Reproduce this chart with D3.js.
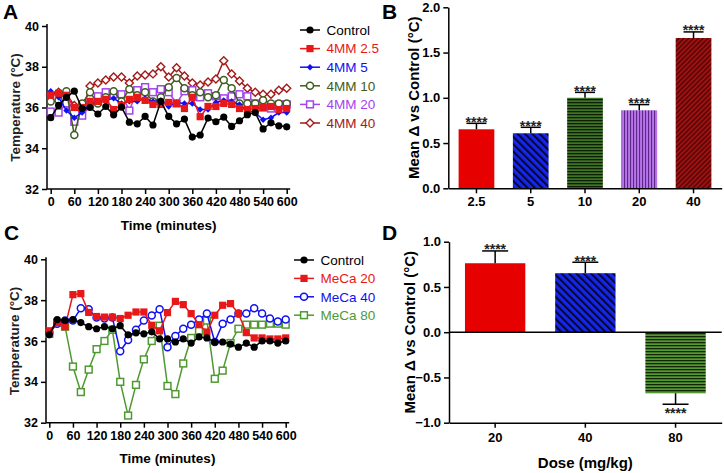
<!DOCTYPE html>
<html><head><meta charset="utf-8">
<script src="https://cdn.jsdelivr.net/npm/d3@7"></script>
<style>body{margin:0;background:#fff} svg{display:block;font-family:"Liberation Sans",Arial,sans-serif}</style>
</head><body><svg id="c" width="724" height="473"></svg>
<script>
// ---------- data ----------
const timeMin = [0,20,40,60,80,100,120,140,160,180,200,220,240,260,280,300,320,340,360,380,400,420,440,460,480,500,520,540,560,580,600];
const timeTicks = [0,60,120,180,240,300,360,420,480,540,600];
const tempTicks = [32,34,36,38,40];

const seriesNamesA = ["Control","4MM 2.5","4MM 5","4MM 10","4MM 20","4MM 40"];
const controlA = [35.5,36.1,36.5,36.8,35.95,36.0,35.68,36.05,35.64,36.02,35.28,35.2,35.56,35.14,36.3,35.56,35.2,35.43,34.55,34.65,35.48,35.3,35.53,35.07,35.35,35.65,35.75,34.95,35.25,35.1,35.05];
const mm25 = [36.6,36.7,36.6,36.0,36.0,36.3,36.3,36.4,35.9,36.1,36.4,36.5,36.35,36.15,36.15,36.25,36.2,35.95,36.5,35.55,36.05,36.05,36.2,36.15,35.95,35.9,35.95,36.0,36.05,35.9,35.95];
const mm5 = [36.8,36.5,35.85,35.5,35.75,36.15,36.3,36.35,36.45,36.2,36.3,36.3,36.45,36.3,36.35,36.05,36.25,36.2,36.2,35.9,35.9,36.25,36.35,36.3,36.15,35.85,35.75,35.4,35.5,35.75,35.75];
const mm10 = [36.3,36.35,36.8,34.65,36.2,36.75,36.2,36.5,36.8,36.3,36.9,36.6,36.75,36.3,36.5,37.0,37.45,36.95,36.6,36.75,36.5,36.6,37.35,36.95,36.2,36.2,36.2,36.35,36.2,36.2,36.2];
const mm20 = [35.8,35.75,36.2,35.3,35.6,36.15,36.55,36.75,36.65,36.65,35.85,36.85,37.0,36.75,36.9,36.75,36.2,36.8,36.85,36.5,36.7,36.55,36.45,36.55,36.65,36.55,36.2,36.0,35.95,36.15,36.15];
const mm40 = [36.65,36.75,36.65,36.1,35.85,37.05,37.2,37.35,37.5,37.5,37.2,37.55,37.6,37.65,38.0,37.5,37.95,37.55,37.2,37.1,37.25,37.4,38.3,37.65,37.3,36.95,36.75,36.65,36.65,36.85,36.95];

const seriesNamesC = ["Control","MeCa 20","MeCa 40","MeCa 80"];
const controlC = [36.3,37.05,37.0,37.05,36.9,36.7,36.6,36.7,36.6,36.75,36.3,36.4,36.35,36.45,36.1,36.1,35.95,36.1,35.9,36.2,36.15,35.95,35.95,35.85,35.7,35.9,35.7,36.0,36.0,35.9,36.0];
const meca20 = [36.5,36.9,36.7,38.27,38.32,37.4,37.2,37.17,37.17,37.1,37.26,37.42,37.42,36.77,36.5,37.39,37.94,37.78,37.34,36.8,36.44,37.26,37.75,37.83,37.34,36.41,36.15,36.15,36.1,36.1,36.15];
const meca40 = [36.4,36.85,37.0,37.0,37.6,37.55,37.15,37.1,37.15,35.5,36.05,36.55,37.0,37.25,37.55,35.7,36.25,36.6,36.8,37.05,37.35,35.95,36.85,37.05,37.35,37.35,37.6,37.35,37.1,36.95,37.05];
const meca80 = [36.35,36.9,36.7,34.75,33.5,34.6,35.6,36.0,36.55,34.0,32.35,33.85,35.1,36.0,36.75,33.8,33.4,34.9,36.15,36.5,37.0,34.15,34.55,35.9,36.6,36.8,36.8,36.8,36.85,36.85,36.8];

const dosesB = ["2.5","5","10","20","40"];
const meanB = [0.652,0.608,1.0,0.862,1.661];
const semB = [0.066,0.066,0.06,0.063,0.067];
const ticksB = [0,0.5,1.0,1.5,2.0];

const dosesD = ["20","40","80"];
const meanD = [0.762,0.652,-0.674];
const semD = [0.136,0.121,0.122];
const ticksD = [-1.0,-0.5,0,0.5,1.0];
const sigLabel = "****";

// ---------- styles ----------
const colA = ["#000000","#e81818","#1010f0","#3f5d20","#a444ec","#a31818"];
const shapeA = ["circle","square","diamondSmall","circleOpen","squareOpen","diamondOpen"];
const colC = ["#000000","#e81818","#1010f0","#4f9a30"];
const shapeC = ["circle","square","circleOpen","squareOpen"];

const svg = d3.select("#c");
const defs = svg.append("defs");
function stripePattern(id, base, stripe, period, width, angle){
  const p = defs.append("pattern").attr("id",id).attr("patternUnits","userSpaceOnUse")
    .attr("width",period).attr("height",period).attr("patternTransform",`rotate(${angle})`);
  p.append("rect").attr("width",period).attr("height",period).attr("fill",base);
  p.append("rect").attr("x",0).attr("y",0).attr("width",width).attr("height",period).attr("fill",stripe);
}
stripePattern("pBlue","#1426e8","#050530",5.2,2.0,-45);
stripePattern("pGreen","#3f7424","#0e1f07",3.0,1.3,90);
stripePattern("pPurple","#b874ea","#5c2a86",3.0,1.1,0);
stripePattern("pDRed","#a01212","#4a0404",3.4,1.3,45);
stripePattern("pGreen2","#559a30","#13260a",3.0,1.3,90);

const fillB = ["#e60000","url(#pBlue)","url(#pGreen)","url(#pPurple)","url(#pDRed)"];
const fillD = ["#e60000","url(#pBlue)","url(#pGreen2)"];

function marker(g, shape, color, cx, cy){
  if(shape==="circle") g.append("circle").attr("cx",cx).attr("cy",cy).attr("r",3.6).attr("fill",color);
  else if(shape==="circleOpen") g.append("circle").attr("cx",cx).attr("cy",cy).attr("r",3.5).attr("fill","#fff").attr("stroke",color).attr("stroke-width",1.5);
  else if(shape==="square") g.append("rect").attr("x",cx-3.6).attr("y",cy-3.6).attr("width",7.2).attr("height",7.2).attr("fill",color);
  else if(shape==="squareOpen") g.append("rect").attr("x",cx-3.4).attr("y",cy-3.4).attr("width",6.8).attr("height",6.8).attr("fill","#fff").attr("stroke",color).attr("stroke-width",1.5);
  else if(shape==="diamondSmall") g.append("path").attr("d",`M${cx},${cy-3.2}L${cx+3.2},${cy}L${cx},${cy+3.2}L${cx-3.2},${cy}Z`).attr("fill",color);
  else if(shape==="diamondOpen") g.append("path").attr("d",`M${cx},${cy-4}L${cx+4},${cy}L${cx},${cy+4}L${cx-4},${cy}Z`).attr("fill","#fff").attr("stroke",color).attr("stroke-width",1.4);
}

function styleAxis(sel, fs){
  sel.selectAll("path,line").attr("stroke","#000").attr("stroke-width",1.5);
  sel.selectAll("text").attr("font-size",fs).attr("font-weight","bold").attr("fill","#000")
     .attr("font-family",'"Liberation Sans",Arial,sans-serif');
}

function linePanel(o){
  const x = d3.scaleLinear().domain([0,600]).range(o.xr);
  const y = d3.scaleLinear().domain([32,40]).range(o.yr);
  const g = svg.append("g");
  // axes
  const ya = g.append("g").attr("transform",`translate(${o.yAxisX},0)`)
    .call(d3.axisLeft(y).tickValues(tempTicks).tickSize(5).tickPadding(3).tickSizeOuter(0));
  styleAxis(ya,"12.5px");
  ya.select(".domain").attr("d",`M0,${y(32)}V${y(40)-2}`);
  const xa = g.append("g").attr("transform",`translate(0,${y(32)})`)
    .call(d3.axisBottom(x).tickValues(timeTicks).tickSize(5).tickPadding(3).tickSizeOuter(0));
  styleAxis(xa,"12.5px");
  xa.select(".domain").attr("d",`M${o.yAxisX},0H${x(600)+3.5}`);
  // series (draw last first so Control ends on top)
  const line = d3.line().x((d,i)=>x(timeMin[i])).y(d=>y(d));
  for(let s=o.data.length-1;s>=0;s--){
    const sg = g.append("g");
    sg.append("path").attr("d",line(o.data[s])).attr("fill","none").attr("stroke",o.cols[s]).attr("stroke-width",1.5);
    o.data[s].forEach((v,i)=>marker(sg,o.shapes[s],o.cols[s],x(timeMin[i]),y(v)));
  }
  // legend
  o.names.forEach((n,i)=>{
    const ly = o.legY + i*o.legStep;
    g.append("line").attr("x1",o.legX).attr("x2",o.legX+20).attr("y1",ly).attr("y2",ly).attr("stroke",o.cols[i]).attr("stroke-width",1.5);
    marker(g,o.shapes[i],o.cols[i],o.legX+10,ly);
    g.append("text").attr("x",o.legTextX).attr("y",ly).attr("dy","0.35em").attr("font-size","13.5px").attr("fill",o.cols[i]).text(n);
  });
  // titles
  g.append("text").attr("transform",`translate(${o.yTitleX},${(y(32)+y(40))/2}) rotate(-90)`).attr("text-anchor","middle").attr("dy","0.35em")
    .attr("font-size","13.5px").attr("font-weight","bold").attr("fill","#222").text("Temperature (°C)");
  g.append("text").attr("x",(x(0)+x(600))/2).attr("y",y(32)+36).attr("text-anchor","middle").attr("dy","0.35em")
    .attr("font-size","13.5px").attr("font-weight","bold").text("Time (minutes)");
}

linePanel({xr:[50.7,286.7], yr:[189,26], yAxisX:47, data:[controlA,mm25,mm5,mm10,mm20,mm40], cols:colA, shapes:shapeA, names:seriesNamesA,
  legX:300, legTextX:326.5, legY:30, legStep:18.6, yTitleX:15});
linePanel({xr:[49.3,285.7], yr:[422.7,259.3], yAxisX:46, data:[controlC,meca20,meca40,meca80], cols:colC, shapes:shapeC, names:seriesNamesC,
  legX:294, legTextX:320.5, legY:260, legStep:18.4, yTitleX:14});

// ---------- panel B ----------
(function(){
  const x = d3.scaleBand().domain(dosesB).range([448.3,721.7]).paddingInner(0.342).paddingOuter(0.19);
  const y = d3.scaleLinear().domain([0,2]).range([188.3,7.3]);
  const g = svg.append("g");
  dosesB.forEach((d,i)=>{
    g.append("rect").attr("x",x(d)).attr("y",y(meanB[i])).attr("width",x.bandwidth()).attr("height",y(0)-y(meanB[i])).attr("fill",fillB[i]);
    const cx = x(d)+x.bandwidth()/2, top = y(meanB[i]+semB[i]);
    g.append("line").attr("x1",cx).attr("x2",cx).attr("y1",y(meanB[i])).attr("y2",top).attr("stroke","#000").attr("stroke-width",1.5);
    g.append("line").attr("x1",cx-10).attr("x2",cx+10).attr("y1",top).attr("y2",top).attr("stroke","#000").attr("stroke-width",1.5);
    g.append("text").attr("x",cx).attr("y",top+3.5).attr("text-anchor","middle").attr("font-size","14px").attr("font-weight","bold").attr("fill","#222").text(sigLabel);
  });
  const ya = g.append("g").attr("transform","translate(448.3,0)").call(d3.axisLeft(y).tickValues(ticksB).tickFormat(d3.format(".1f")).tickSize(5).tickPadding(3).tickSizeOuter(0));
  styleAxis(ya,"13px");
  const xa = g.append("g").attr("transform",`translate(0,${y(0)})`).call(d3.axisBottom(x).tickSize(5).tickPadding(3).tickSizeOuter(0));
  styleAxis(xa,"13px");
  g.append("text").attr("transform",`translate(414,${(y(0)+y(2))/2}) rotate(-90)`).attr("text-anchor","middle").attr("dy","0.35em")
    .attr("font-size","15px").attr("font-weight","bold").text("Mean Δ vs Control (°C)");
})();

// ---------- panel D ----------
(function(){
  const x = d3.scaleBand().domain(dosesD).range([449,721.7]).paddingInner(0.331).paddingOuter(0.177);
  const y = d3.scaleLinear().domain([-1,1]).range([422.7,241.7]);
  const g = svg.append("g");
  dosesD.forEach((d,i)=>{
    const v = meanD[i];
    g.append("rect").attr("x",x(d)).attr("y",Math.min(y(v),y(0))).attr("width",x.bandwidth()).attr("height",Math.abs(y(0)-y(v))).attr("fill",fillD[i]);
    const cx = x(d)+x.bandwidth()/2, end = v>=0 ? y(v+semD[i]) : y(v-semD[i]);
    g.append("line").attr("x1",cx).attr("x2",cx).attr("y1",y(v)).attr("y2",end).attr("stroke","#000").attr("stroke-width",1.5);
    g.append("line").attr("x1",cx-13).attr("x2",cx+13).attr("y1",end).attr("y2",end).attr("stroke","#000").attr("stroke-width",1.5);
    g.append("text").attr("x",cx).attr("y",v>=0 ? end+3.5 : end+14).attr("text-anchor","middle").attr("font-size","14px").attr("font-weight","bold").attr("fill","#222").text(sigLabel);
  });
  const ya = g.append("g").attr("transform","translate(449,0)").call(d3.axisLeft(y).tickValues(ticksD).tickFormat(d3.format(".1f")).tickSize(5).tickPadding(3).tickSizeOuter(0));
  styleAxis(ya,"13px");
  g.append("line").attr("x1",449).attr("x2",721.7).attr("y1",y(0)).attr("y2",y(0)).attr("stroke","#000").attr("stroke-width",1.5);
  const xa = g.append("g").attr("transform",`translate(0,${y(-1)})`).call(d3.axisBottom(x).tickSize(5).tickPadding(5).tickSizeOuter(0));
  styleAxis(xa,"13px");
  g.append("text").attr("transform",`translate(410,${(y(-1)+y(1))/2}) rotate(-90)`).attr("text-anchor","middle").attr("dy","0.35em")
    .attr("font-size","15px").attr("font-weight","bold").text("Mean Δ vs Control (°C)");
  g.append("text").attr("x",(449+721.7)/2).attr("y",463).attr("text-anchor","middle").attr("dy","0.35em")
    .attr("font-size","15px").attr("font-weight","bold").text("Dose (mg/kg)");
})();

// ---------- panel letters ----------
[["A",3,19],["B",382,19],["C",4,240],["D",382,240]].forEach(([t,x,y])=>{
  svg.append("text").attr("x",x).attr("y",y).attr("font-size","21px").attr("font-weight","bold").text(t);
});
</script></body></html>
